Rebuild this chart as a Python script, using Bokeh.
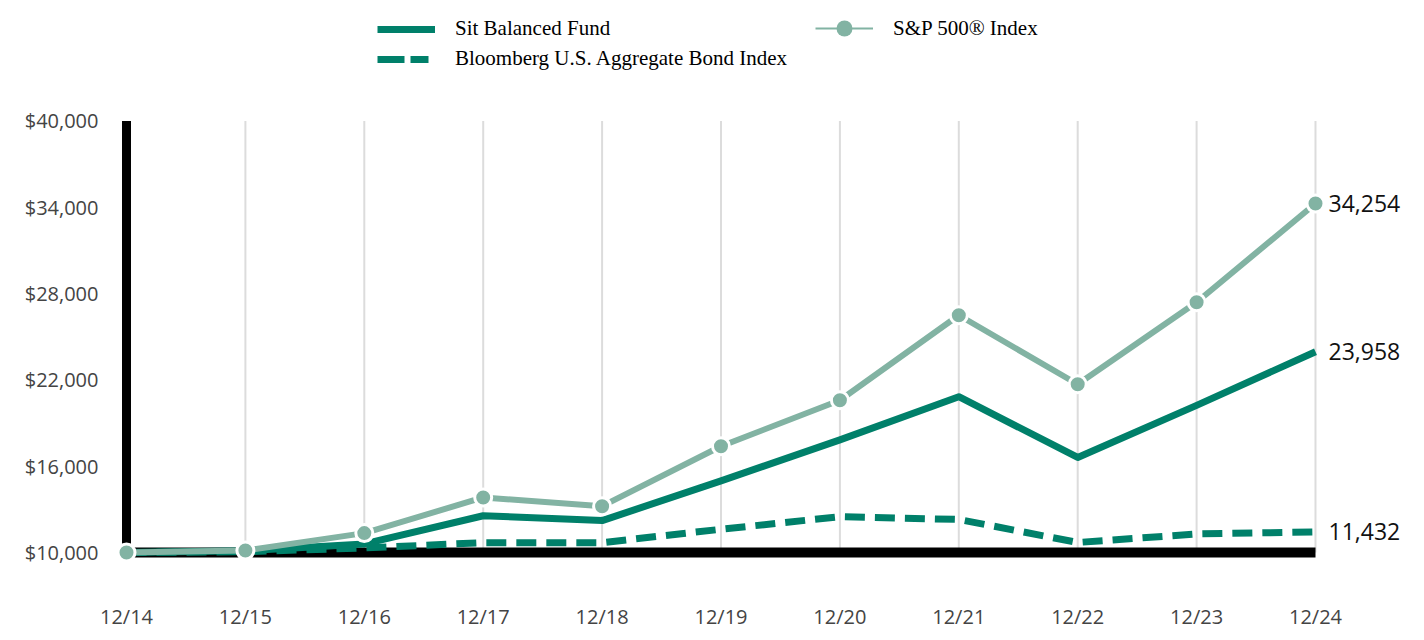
from bokeh.plotting import figure
from bokeh.models import (Range1d, FixedTicker, Legend, LegendItem, ColumnDataSource)
from bokeh.core.properties import value
from bokeh.embed import file_html
from bokeh.resources import INLINE

# ---- data ----
periods = ["12/14", "12/15", "12/16", "12/17", "12/18", "12/19",
           "12/20", "12/21", "12/22", "12/23", "12/24"]
sit_balanced = [10000, 10120, 10600, 12560, 12220, 14980, 17830, 20830, 16610, 20230, 23958]
bloomberg_agg = [10000, 10055, 10321, 10687, 10688, 11620, 12493, 12301, 10700, 11292, 11432]
sp500 = [10000, 10138, 11351, 13829, 13223, 17386, 20585, 26494, 21696, 27399, 34254]
y_ticks = [10000, 16000, 22000, 28000, 34000, 40000]
y_tick_labels = ["$10,000", "$16,000", "$22,000", "$28,000", "$34,000", "$40,000"]

series_names = ["Sit Balanced Fund", "Bloomberg U.S. Aggregate Bond Index", "S&P 500\u00ae Index"]

# ---- styles ----
DARK = "#00806A"
LIGHT = "#82B3A3"
TICK_FONT = "Open Sans"

xs = list(range(len(periods)))

p = figure(width=1416, height=632, output_backend="svg", toolbar_location=None,
           x_range=Range1d(-0.0925, 10.799), y_range=Range1d(9239.6, 47810),
           min_border_left=115, min_border_right=6, min_border_top=8, min_border_bottom=66,
           outline_line_color=None, background_fill_color="white", border_fill_color="white")

p.xgrid.grid_line_color = None
p.ygrid.grid_line_color = None

# axes styling
p.xaxis.ticker = FixedTicker(ticks=xs)
p.xaxis.major_label_overrides = {i: lab for i, lab in zip(xs, periods)}
p.yaxis.ticker = FixedTicker(ticks=y_ticks)
p.yaxis.major_label_overrides = {t: lab for t, lab in zip(y_ticks, y_tick_labels)}
for ax in (p.xaxis, p.yaxis):
    ax.axis_line_color = None
    ax.major_tick_line_color = None
    ax.minor_tick_line_color = None
    ax.major_label_text_font = TICK_FONT
    ax.major_label_text_font_size = "20px"
    ax.major_label_text_color = "#444444"
p.xaxis.major_label_standoff = 33
p.yaxis.major_label_standoff = 11

# vertical light gridlines
p.segment(x0=xs[1:], y0=[min(y_ticks)] * (len(xs) - 1), x1=xs[1:], y1=[max(y_ticks)] * (len(xs) - 1),
          line_color="#dcdcdc", line_width=2)

# black axis lines
p.segment(x0=[xs[0]], y0=[min(y_ticks)], x1=[xs[0]], y1=[max(y_ticks)],
          line_color="black", line_width=9, line_cap="butt")
p.segment(x0=[xs[0]], y0=[min(y_ticks)], x1=[xs[-1]], y1=[min(y_ticks)],
          line_color="black", line_width=10, line_cap="butt")

# series
p.line(xs, bloomberg_agg, line_color=DARK, line_width=7, line_dash="20 10", line_join="round")
p.line(xs, sit_balanced, line_color=DARK, line_width=7, line_join="round")
p.line(xs, sp500, line_color=LIGHT, line_width=6, line_join="round")
p.scatter(xs, sp500, size=17, fill_color=LIGHT, line_color="white", line_width=3)

# end labels
last_vals = [sp500[-1], sit_balanced[-1], bloomberg_agg[-1]]
src = ColumnDataSource(dict(x=[xs[-1]] * 3, y=last_vals, t=[f"{v:,}" for v in last_vals]))
p.text(x="x", y="y", text="t", source=src, x_offset=13, text_baseline="middle",
       text_align="left", text_font=value(TICK_FONT), text_font_size="23px", text_color="#111111")

# legend-only renderers (hidden in plot, styled for the legend keys)
r_sit = p.line(xs, sit_balanced, line_color=DARK, line_width=7, visible=False)
r_bond = p.line(xs, bloomberg_agg, line_color=DARK, line_width=7, line_dash="27 6 18 100", visible=False)
r_sp_line = p.line(xs, sp500, line_color=LIGHT, line_width=2, visible=False)
r_sp_dot = p.scatter(xs, sp500, size=18, fill_color=LIGHT, line_color=LIGHT, line_width=0, visible=False)

common = dict(orientation="vertical", glyph_width=58, label_height=20,
              label_standoff=20, spacing=5, padding=0, margin=0,
              border_line_alpha=0, background_fill_alpha=0, click_policy="none",
              label_text_font="Liberation Serif", label_text_font_size="21px",
              label_text_color="#000000", label_text_baseline="middle")

leg1 = Legend(items=[LegendItem(label=series_names[0], renderers=[r_sit]),
                     LegendItem(label=series_names[1], renderers=[r_bond])],
              location=(262, 492), glyph_height=20, **common)
leg2 = Legend(items=[LegendItem(label=series_names[2], renderers=[r_sp_line, r_sp_dot])],
              location=(700, 515), glyph_height=40, **common)
p.add_layout(leg1, "center")
p.add_layout(leg2, "center")

open("out.html", "w").write(file_html(p, INLINE))
